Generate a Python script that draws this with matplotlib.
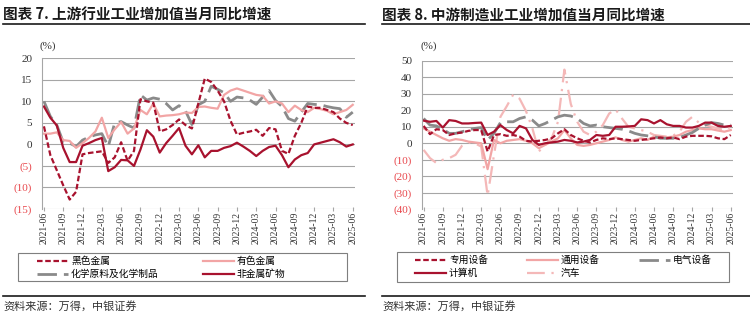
import matplotlib
matplotlib.use("Agg")
import matplotlib.pyplot as plt
from matplotlib.lines import Line2D
from matplotlib.patches import Rectangle
import numpy as np
import pandas as pd

# ---------------- data ----------------
months = [str(p) for p in pd.period_range("2021-06", "2025-06", freq="M")]

ferrous = [4.2, -2.5, -6, -9.5, -12.8, -11, -2.3, -2.0, -1.8, -1.6, -4.3, -3, 0.5, -3.8, -1.5,
           10.5, 10, 9.7, 3, 3.5, 4.5, 5.8, 4.5, 3.7,
           9.5, 15.3, 14.5, 12.5, 10, 5.5, 2.3, 2.7, 3, 3.4, 2, 3.8, 3.5, -1.5, -2.2, 2, 5,
           8.8, 8.5, 8.5, 8, 7.5, 6, 5, 4.5]
nonferrous = [2.5, 2.5, 2.8, 1.0, 0.8, -0.8, 0.3, 1.5, 3, 6.2, 1.5, 3.5, 5.2, 2.5, 3.7, 8, 7, 9.5,
              6.5, 6.7, 6.8, 7, 7.4, 7.3,
              8.7, 8.8, 8.5, 8.3, 11.5, 12.5, 13, 12.5, 12, 11.5, 11.3, 9.5, 10, 9.5, 7.5, 9, 8,
              7.5, 8.5, 8.2, 7.8, 7, 7.5, 8, 9.2]
chemical = [10, 6.5, 4.5, 0.5, 0.3, -0.5, 1, 1.7, 2.2, 2.5, -0.5, 5, 5.3, 4.5, 3.8, 11.5, 10.3,
            10.8, 10.5, 9.5, 8, 9.0, 7.8, 4.6,
            9.2, 10, 13.5, 12.8, 12, 10, 11, 10.8, 10.3, 9.3, 11, 12.5, 10.2, 8.8, 6, 5.4, 7.5,
            9.5, 9.3, 9.2, 8.8, 8.5, 8.3, 6.3, 7.5]
nonmetal = [8.8, 6.2, 4.4, -0.8, -4.1, -4.1, -0.3, 0.3, 1, 1.5, -6.2, -5.3, -3.6, -3.7, -5,
            -1.2, 3.3, 1.8, -1.9, 0.3, 2, 3.8, -0.3, -2.3,
            -0.2, -3, -1.5, -1.5, -0.8, -0.4, 0.4, -0.5, -1.5, -2.7, -1.5, -0.6, -0.3, -2.5,
            -5.3, -3.5, -2.5, -2, 0, 0.4, 0.8, 1.2, 0.5, -0.5, 0]

special = [10.5, 5.5, 8.5, 8, 5, 6, 6.5, 7.5, 8, 8, -5, 5, 5.5, 4.5, 5, 4, 1.5, 1, 1.5, 2, 3, 6, 8.5,
           5, 3, 1.5, 0.5, 2, 3, 2.5, 3, 2.5, 2, 1.5, 2, 2.5, 3, 3.5, 3, 3.5, 2.5, 4, 4.5, 4.5,
           4.5, 4.2, 3, 2.5, 5]
general = [9, 7, 5, 3, 1.5, 2.5, 2, 1, 0.5, 0, -15.7, 2, 0, 1.5, 2, 2.5, 1.5, 0, -3, -1, 1, 3, 8,
           3, -1, -1.6, -1, 0, 1, 2, 3.6, 2, 1, 2, 3, 2, 4, 4, 3.6, 4, 5, 7, 8, 9, 8.5, 8.5, 7.7, 7, 8]
electrical = [15, 11, 10.5, 8.5, 6, 6, 7, 8, 9, 9.5, 2, 6, 12.5, 13, 13, 15, 16, 14, 10.5, 12, 14, 16, 17,
              16.5, 15, 12, 10.5, 11, 10, 9.5, 9, 8.5, 7.5, 6, 5, 4.5, 4, 3, 3, 3, 3.5, 5, 6.5, 9,
              11, 12.5, 12, 11, 11]
computer = [13.7, 13, 13.5, 9.5, 14, 13.5, 12, 12, 12.3, 12.5, 5, 7, 11, 8, 6, 10.5, 9, 2, -1, 0, 0.5, 1, 2,
            1.5, 0.5, 1, 2, 5, 4.5, 5, 10, 10, 10.2, 10.5, 14.5, 14, 12, 14, 11.5, 10.5, 10.5, 9.5,
            9.5, 10.5, 12.5, 12.5, 10.5, 10, 10.5]
auto = [-4, -9, -12, -10, -9, -7, -1.5, 0.5, 0, -2, -31.8, -7, 16, 22.5, 29.5, 27, 19.5, 9, -5, -1, 3, 13, 44.6,
        23.8, 13, 7, 5, 7, 11, 18, 20.5, 15, 10, 9, 8, 7, 5, 4.5, 4, 4.6, 7, 13, 16, 12.5, 11, 10, 9, 8, 10]

left_ticks = [20, 15, 10, 5, 0, -5, -10, -15]
right_ticks = [50, 40, 30, 20, 10, 0, -10, -20, -30, -40]

# ---------------- style ----------------
CJK = "Noto Sans CJK SC"
NUM = "Liberation Serif"
plt.rcParams["font.family"] = [NUM, CJK, "DejaVu Sans"]

DARK = "#A8122E"
PINK = "#F2A5A5"
GRAY = "#8A8A8A"
AUTO = "#F4B8B8"
NEG = "#E8474C"
TXT = "#333333"
GRID = "#A6A6A6"
GRAY_DASH = (7, 2.5)
RED_DASH = (2.5, 1.2)
AUTO_DASH = (8, 3, 1, 3)

fig = plt.figure(figsize=(7.5, 3.32), dpi=100)
W, H = 750, 332


def fx(px):
    return px / W


def fy(py):
    return 1 - py / H


def setup_axes(ax, ticks, ylim):
    x = np.arange(len(months))
    ax.set_xlim(-0.3, len(months) - 1 + 0.35)
    ax.set_ylim(*ylim)
    ax.set_yticks(ticks)
    labels = [f"({abs(t)})" if t < 0 else f"{t}" for t in ticks]
    ax.set_yticklabels(labels, fontfamily=NUM, fontsize=8)
    for lab, t in zip(ax.get_yticklabels(), ticks):
        lab.set_color(NEG if t < 0 else TXT)
    ax.tick_params(axis="y", length=0, pad=7)
    ax.grid(axis="y", color=GRID, lw=0.8)
    ax.set_axisbelow(True)
    for s in ["top", "right", "bottom"]:
        ax.spines[s].set_visible(False)
    ax.spines["left"].set_color(GRID)
    ax.spines["left"].set_linewidth(0.8)
    ax.set_xticks(x[::3])
    ax.set_xticklabels(months[::3], rotation=90, fontfamily=NUM, fontsize=7, color=TXT)
    ax.tick_params(axis="x", length=0, pad=2)
    sec = ax.secondary_xaxis(0)
    sec.set_xticks(x[::3])
    sec.set_xticklabels([])
    sec.tick_params(axis="x", length=3, direction="inout", color=GRID, width=0.8)
    sec.spines["bottom"].set_visible(False)
    return x


def legend_box(handles, ncol, box, anchor_x, anchor_y, colspace):
    x0, y0, x1, y1 = box
    fig.add_artist(Rectangle((fx(x0), fy(y1)), fx(x1 - x0), (y1 - y0) / H,
                             transform=fig.transFigure, fill=False,
                             edgecolor="#7F7F7F", lw=0.8))
    fig.legend(handles=handles, ncol=ncol, loc="center left",
               bbox_to_anchor=(fx(anchor_x), fy(anchor_y)),
               prop={"family": [CJK], "size": 7}, frameon=False,
               handlelength=3.2, handletextpad=0.3, borderpad=0,
               labelspacing=0.3, borderaxespad=0, columnspacing=colspace)


# ---------------- left chart ----------------
axL = fig.add_axes([fx(42), fy(209), fx(355 - 42), (209 - 58.3) / H])
x = setup_axes(axL, left_ticks, (-15, 20))
l3, = axL.plot(x, chemical, color=GRAY, lw=2.0, dashes=GRAY_DASH, label="化学原料及化学制品")
l2, = axL.plot(x, nonferrous, color=PINK, lw=1.6, label="有色金属")
l1, = axL.plot(x, ferrous, color=DARK, lw=1.6, dashes=RED_DASH, label="黑色金属")
l4, = axL.plot(x, nonmetal, color=DARK, lw=1.6, label="非金属矿物")

legend_box([l1, l3, l2, l4], 2, (18, 253, 347, 281), 37, 267.5, 4.5)

# ---------------- right chart ----------------
axR = fig.add_axes([fx(421.7), fy(209.3), fx(733 - 421.7), (209.3 - 60.7) / H])
x = setup_axes(axR, right_ticks, (-40, 50))
r5, = axR.plot(x, auto, color=AUTO, lw=1.6, dashes=AUTO_DASH, label="汽车")
r2, = axR.plot(x, general, color=PINK, lw=1.6, label="通用设备")
r3, = axR.plot(x, electrical, color=GRAY, lw=2.0, dashes=GRAY_DASH, label="电气设备")
r1, = axR.plot(x, special, color=DARK, lw=1.6, dashes=RED_DASH, label="专用设备")
r4, = axR.plot(x, computer, color=DARK, lw=1.6, label="计算机")

legend_box([r1, r4, r2, r5, r3], 3, (397, 252, 729, 282), 415, 266.7, 4.0)

# ---------------- titles / footers ----------------
for x0, x1, title in [(3, 365, "图表 7. 上游行业工业增加值当月同比增速"),
                      (382, 750, "图表 8. 中游制造业工业增加值当月同比增速")]:
    fig.text(fx(x0), fy(15), title, family=[CJK], fontsize=10.5, fontweight="bold",
             va="center", ha="left", color="#1A1A1A")
    fig.add_artist(Line2D([fx(x0), fx(x1)], [fy(24), fy(24)], color="#1A1A1A", lw=1.2))
    fig.add_artist(Line2D([fx(x0), fx(x1)], [fy(296), fy(296)], color="#1A1A1A", lw=1.2))
    fig.text(fx(x0), fy(306), "资料来源：万得，中银证券", family=[CJK], fontsize=8,
             style="italic", va="center", ha="left", color="#333333")

fig.text(fx(40), fy(46), "(%)", family=NUM, fontsize=8, color=TXT, va="center", ha="left")
fig.text(fx(420), fy(46), "(%)", family=NUM, fontsize=8, color=TXT, va="center", ha="left")

fig.savefig("out.png", dpi=100)
